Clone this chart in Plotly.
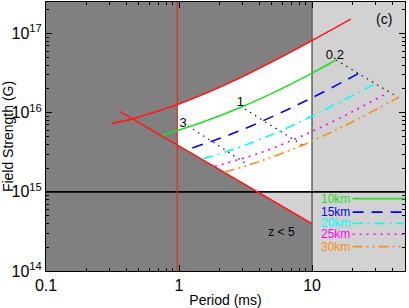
import numpy as np
import plotly.graph_objects as go

# ---------------- data ----------------
UPPER_P = [0.313, 0.451, 0.962, 1.432, 2.415, 4.966, 9.93, 19.54]
UPPER_B = [7.33e15, 8.41e15, 1.256e16, 1.633e16, 2.404e16, 4.375e16, 8.11e16, 1.52e17]

LOWER_P = [0.358, 10.0]
LOWER_B = [1.04e16, 3.95e14]

P_MIN = 0.97      # red vertical line
P_MAX = 10.0      # light-grey boundary
B_MAG = 1e15      # horizontal black line

R10_P = [0.750, 1.479, 2.951, 5.623, 10.0, 15.14]
R10_B = [5.19e15, 7.53e15, 1.180e16, 1.928e16, 3.162e16, 4.63e16]

R15_P = [1.259, 2.553, 5.26, 10.0, 22.28]
R15_B = [3.59e15, 5.48e15, 9.23e15, 1.542e16, 3.119e16]

R20_P = [1.517, 2.553, 4.467, 7.656, 14.45, 29.79]
R20_B = [2.62e15, 3.43e15, 4.90e15, 7.28e15, 1.236e16, 2.32e16]

R25_P = [1.858, 4.055, 9.354, 20.8, 36.81]
R25_B = [2.10e15, 3.10e15, 5.50e15, 1.059e16, 1.778e16]

R30_P = [2.208, 3.715, 7.656, 13.65, 23.6, 44.57]
R30_B = [1.778e15, 2.307e15, 3.614e15, 5.57e15, 8.79e15, 1.556e16]

ISO_LABELS = ["3", "1", "0.2"]
ISO_P = [[1.168, 3.273], [3.126, 8.511], [15.14, 44.57]]
ISO_B = [[6.80e15, 2.213e15], [1.11e16, 3.89e15], [4.63e16, 1.556e16]]
ISO_LABEL_P = [1.074, 2.897, 14.86]
ISO_LABEL_B = [7.26e15, 1.321e16, 5.28e16]

X_RANGE = [0.1, 50]
Y_RANGE = [1e14, 2.5e17]

SERIES_NAMES = ["10km", "15km", "20km", "25km", "30km"]
SERIES_COLORS = ["#22dd22", "#0000ff", "#00ffff", "#ff00ff", "#ff8c1a"]
SERIES_DASH = ["solid", "11px,8px", "10px,5px,2px,5px", "2px,5px", "10px,4px,2px,4px,2px,4px"]
SERIES_P = [R10_P, R15_P, R20_P, R25_P, R30_P]
SERIES_B = [R10_B, R15_B, R20_B, R25_B, R30_B]

DARK = "#808080"
LIGHT = "#d2d2d2"
FONT = "Liberation Sans, Arial, sans-serif"

# ---------------- derived region boundaries ----------------
lux, luy = np.log10(UPPER_P), np.log10(UPPER_B)
llx, lly = np.log10(LOWER_P), np.log10(LOWER_B)
upper = lambda lp: np.interp(lp, lux, luy)
lower = lambda lp: np.interp(lp, llx, lly)
lmin, lmax, lmag = np.log10(P_MIN), np.log10(P_MAX), np.log10(B_MAG)
lcross = llx[0] + (lmag - lly[0]) * (llx[1] - llx[0]) / (lly[1] - lly[0])

inner = [v for v in lux if lmin < v < lmax]
top_x = np.array([lmin] + inner + [lmax])
top_y = np.array([upper(lmin)] + [upper(v) for v in inner] + [upper(lmax)])
bot_x = np.array([lmin, lcross, lmax])
bot_y = np.array([lower(lmin), lmag, lmag])

fig = go.Figure()

# light grey region P > 10
fig.add_trace(go.Scatter(
    x=[P_MAX, X_RANGE[1] * 1.2, X_RANGE[1] * 1.2, P_MAX],
    y=[Y_RANGE[0] * 0.8, Y_RANGE[0] * 0.8, Y_RANGE[1] * 1.2, Y_RANGE[1] * 1.2],
    fill="toself", fillcolor=LIGHT, mode="lines", line=dict(width=0),
    hoverinfo="skip", showlegend=False))
# light grey triangle below 1e15
fig.add_trace(go.Scatter(
    x=[10 ** lcross, P_MAX, P_MAX], y=[B_MAG, LOWER_B[-1], B_MAG],
    fill="toself", fillcolor=LIGHT, mode="lines", line=dict(width=0),
    hoverinfo="skip", showlegend=False))
# white allowed region: between lower boundary and (smoothed) upper boundary
fig.add_trace(go.Scatter(
    x=10 ** bot_x, y=10 ** bot_y, mode="lines", line=dict(width=0, color="white"),
    hoverinfo="skip", showlegend=False))
fig.add_trace(go.Scatter(
    x=10 ** top_x, y=10 ** top_y, mode="lines", fill="tonexty", fillcolor="white",
    line=dict(width=0, color="white", shape="spline", smoothing=1.0),
    hoverinfo="skip", showlegend=False))


def line(x, y, color, width, dash="solid", shape="linear"):
    fig.add_trace(go.Scatter(x=x, y=y, mode="lines",
                             line=dict(color=color, width=width, dash=dash, shape=shape,
                                       smoothing=1.0 if shape == "spline" else None),
                             hoverinfo="skip", showlegend=False))


line([P_MAX, P_MAX], [Y_RANGE[0] * 0.8, Y_RANGE[1] * 1.2], "#6a6a6a", 1.6)
line([X_RANGE[0] * 0.8, X_RANGE[1] * 1.2], [B_MAG, B_MAG], "black", 1.8)
line([P_MIN, P_MIN], [Y_RANGE[0] * 0.8, Y_RANGE[1] * 1.2], "#ee2222", 1.2)
line(UPPER_P, UPPER_B, "#ff1a1a", 1.6, shape="spline")
line(LOWER_P, LOWER_B, "#ff1a1a", 1.6)

for p, b in zip(ISO_P, ISO_B):
    line(p, b, "#222222", 1.3, "1.5px,4.5px")

for p, b, c, d in zip(SERIES_P, SERIES_B, SERIES_COLORS, SERIES_DASH):
    line(p, b, c, 1.6, d, shape="spline")

fig.add_trace(go.Scatter(
    x=ISO_LABEL_P, y=ISO_LABEL_B, text=ISO_LABELS, mode="text",
    textfont=dict(family=FONT, size=13, color="black"),
    hoverinfo="skip", showlegend=False))
fig.add_trace(go.Scatter(
    x=[5.89], y=[2.99e14], text=["z &lt; 5"], mode="text",
    textfont=dict(family=FONT, size=12, color="black"),
    hoverinfo="skip", showlegend=False))

# custom legend (text left of line, inside plot)
leg_y = [0.269, 0.219, 0.177, 0.1365, 0.0906]
for name, c, d, yy in zip(SERIES_NAMES, SERIES_COLORS, SERIES_DASH, leg_y):
    fig.add_shape(type="line", xref="paper", yref="paper", x0=0.854, x1=1.0,
                  y0=yy, y1=yy, line=dict(color=c, width=1.6, dash=d))
    fig.add_annotation(xref="paper", yref="paper", x=0.852, y=yy, text=name,
                       showarrow=False, xanchor="right", yanchor="middle",
                       font=dict(family=FONT, size=12, color=c))

fig.add_annotation(xref="paper", yref="paper", x=0.941, y=0.937, text="(c)",
                   showarrow=False, xanchor="center", yanchor="middle",
                   font=dict(family=FONT, size=14, color="black"))

xminor = [m * 10.0 ** e for e in (-1, 0) for m in range(2, 10)] + [20, 30, 40]
yminor = [m * 10.0 ** e for e in (14, 15, 16) for m in range(2, 10)] + [2e17]

axis_common = dict(type="log", showgrid=False, zeroline=False, showline=True,
                   linecolor="black", linewidth=1, mirror="ticks", ticks="inside",
                   ticklen=6, tickcolor="black", tickwidth=1,
                   tickfont=dict(family=FONT, size=16, color="black"))

fig.update_xaxes(**axis_common, range=[np.log10(X_RANGE[0]), np.log10(X_RANGE[1])],
                 tickvals=[0.1, 1, 10], ticktext=["0.1", "1", "10"],
                 minor=dict(tickvals=xminor, ticks="inside", ticklen=3,
                            tickcolor="black", showgrid=False),
                 title=dict(text="Period (ms)", font=dict(family=FONT, size=14, color="black"),
                            standoff=3))
fig.update_yaxes(**axis_common, range=[np.log10(Y_RANGE[0]), np.log10(Y_RANGE[1])],
                 tickvals=[1e14, 1e15, 1e16, 1e17],
                 ticktext=["10<sup>14</sup>", "10<sup>15</sup>", "10<sup>16</sup>", "10<sup>17</sup>"],
                 minor=dict(tickvals=yminor, ticks="inside", ticklen=3,
                            tickcolor="black", showgrid=False),
                 title=dict(text="Field Strength (G)", font=dict(family=FONT, size=14, color="black"),
                            standoff=2))

fig.update_layout(width=409, height=308, margin=dict(l=46, r=4, t=2, b=37, autoexpand=False),
                  paper_bgcolor="white", plot_bgcolor=DARK, showlegend=False,
                  font=dict(family=FONT))

fig.write_html("out.html", config={"displayModeBar": False},
               post_script="document.body.style.margin='0px';")
